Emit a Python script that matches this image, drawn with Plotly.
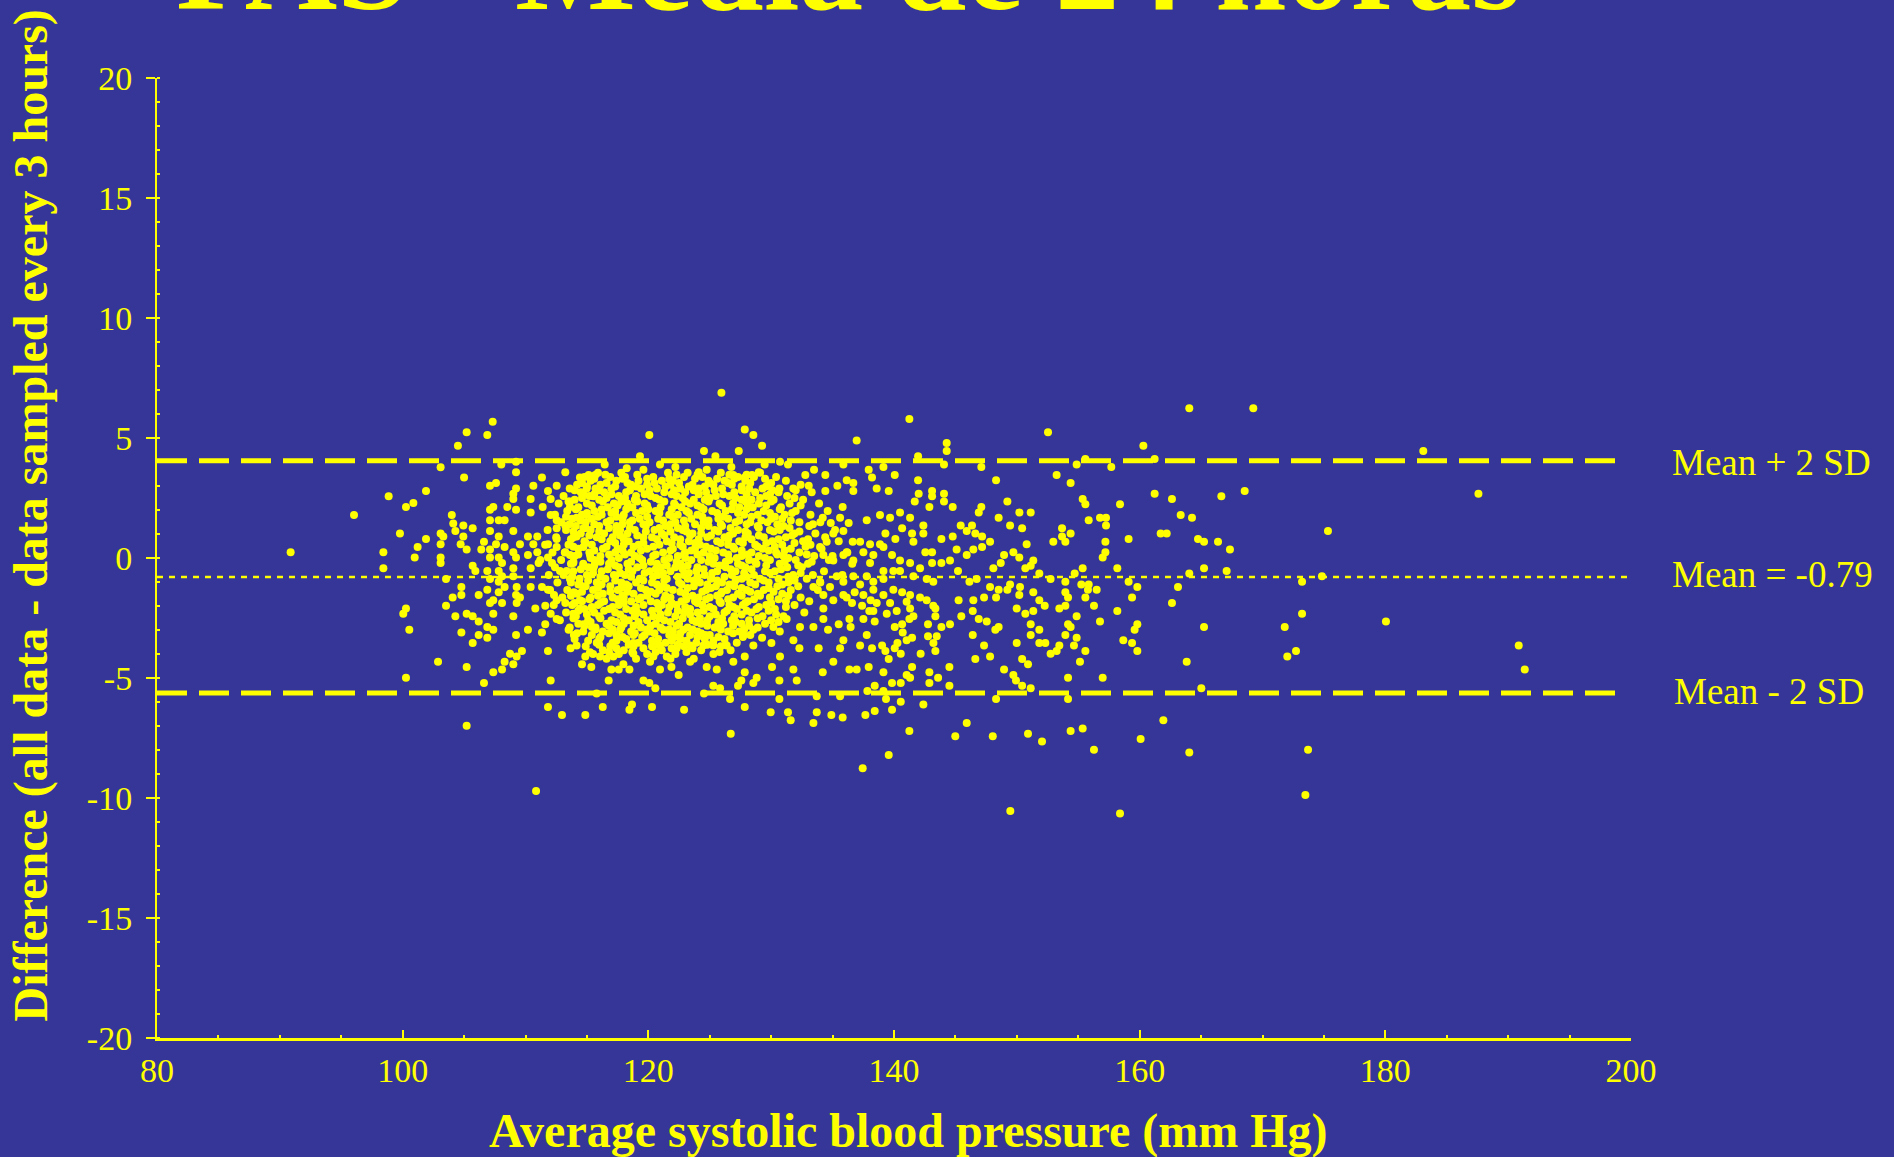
import plotly.graph_objects as go

# ---------------- data ----------------
# (average SBP, difference) pairs, sparse / readable points
left_pts = [
(107.33,5.68),(105.21,5.24),(106.89,5.13),(104.5,4.68),(103.09,3.78),(105.0,3.35),(98.86,2.57),(101.9,2.79),(100.27,2.13),(100.87,2.29),
(96.04,1.79),(90.88,0.24),(99.78,1.02),(101.9,0.79),(101.22,0.46),(98.43,0.24),(100.98,0.02),(98.43,-0.43),(103.09,1.02),(103.31,0.9),
(103.09,0.57),(103.09,0.02),(103.09,-0.21),(104.0,1.79),(104.12,1.44),(104.29,1.13),(104.94,1.35),(105.7,1.24),(104.94,0.9),(104.72,0.57),
(105.21,0.35),(105.7,-0.32),(105.92,-0.54),(103.53,-0.87),(104.78,-1.21),(104.78,-1.54),(104.07,-1.65),(103.53,-1.99),(106.19,-1.54),(106.89,-1.32),
(106.89,-0.54),(100.27,-2.1),(100.05,-2.32),(100.54,-2.99),(104.29,-2.43),(105.21,-2.32),(105.7,-2.43),(106.19,-2.65),(106.89,-2.87),(107.38,-2.99),
(104.78,-3.1),(106.19,-3.21),(106.89,-3.32),(105.7,-3.54),(107.38,-2.32),(102.88,-4.32),(105.21,-4.54),(100.27,-4.99),(106.62,-5.21),(107.38,-4.76),
(108.09,-4.65),(108.3,-4.32),(109.01,-4.43),(108.74,-3.99),(109.28,-4.1),(109.71,-3.88),(109.23,-3.21),(109.01,-2.43),(110.2,-2.99),(111.34,-3.1),
(111.83,-3.88),(112.05,-5.1),(105.21,-6.99),(111.83,-6.21),(112.97,-6.54),(114.87,-6.54),(115.79,-5.65),(107.11,-1.87),(107.38,-1.76),(108.09,-1.87),
(109.28,-1.87),(109.23,-1.54),(109.55,-1.65),(109.28,-1.21),(107.82,-1.43),(107.11,-0.87),(107.82,-0.99),(108.09,-0.76),(109.01,-0.76),(108.3,-1.21),
(107.82,-0.54),(108.09,-0.21),(109.01,-0.43),(107.82,0.02),(107.11,0.02),(107.11,0.35),(106.62,0.68),(106.4,0.35),(107.6,0.57),(108.3,0.46),
(109.01,0.24),(109.23,0.02),(109.55,0.57),(110.2,0.9),(110.96,0.9),(107.11,1.13),(107.82,0.9),(109.01,1.13),(107.11,1.57),(107.82,1.57),
(108.3,1.57),(107.11,2.01),(107.38,2.13),(108.52,2.13),(109.23,2.01),(109.01,2.46),(109.01,2.68),(109.23,2.9),(107.11,3.01),(107.6,3.12),
(109.23,3.57),(109.23,4.01),(108.03,3.9),(110.64,3.01),(111.34,3.35),(110.42,2.46),(110.42,1.9),(111.4,2.13),(111.83,2.79),(112.05,2.46),
(112.54,3.01),(113.24,3.57),(112.05,1.79),(112.54,1.57),(112.54,1.24),(113.24,1.35),(111.83,0.57),(112.54,0.79),(110.64,0.57),(110.96,0.24),
(110.2,0.13),(110.42,-0.43),(111.07,-0.21),(111.83,0.02),(112.54,0.46),(113.24,0.24),(112.16,-0.21),(112.81,-0.54),(110.42,-1.21),(111.34,-1.21),
(111.83,-1.32),(112.32,-1.54),(112.54,-1.76),(113.24,-1.87),(110.8,-2.1),(111.61,-1.99),(112.05,-2.32),(112.54,-2.54),(111.61,-2.76),(113.51,-2.99),
(113.94,-3.21),(113.67,-3.76),(114.16,-3.65),(114.6,-4.43),(115.36,-4.54),(115.25,-3.93),(114.71,-2.76),(115.41,-2.87),(113.89,-2.32),(114.43,-2.1),
(115.41,-2.1),(113.94,-1.43),(114.43,-1.76),(113.62,-0.87),(114.43,-1.1),(113.35,-0.54),(113.89,-0.21),(114.71,-0.32),(115.52,-0.43),(113.62,0.13),
(114.71,0.46),(115.25,0.13),(114.16,0.9),(114.71,1.24),(114.16,1.68),(114.98,1.79),(113.62,2.13),(113.62,2.35),(114.71,2.68),(115.52,2.57),
(114.43,3.35),(115.14,3.46),(115.68,3.46),(114.98,2.9),(110.86,-9.71),
]

mid_pts = [
(125.95,6.89),(120.08,5.13),(127.85,5.35),(128.55,5.13),(129.26,4.68),(124.53,4.46),(127.36,4.46),(125.46,4.24),(119.32,4.24),(141.25,5.79),
(136.96,4.9),(144.29,4.79),(144.29,4.46),(141.96,4.24),(116.45,3.9),(118.24,3.74),(119.6,3.68),(120.95,3.9),(122.2,3.79),(124.1,3.57),
(124.75,3.68),(126.76,3.79),(126.92,3.46),(127.85,3.35),(128.44,3.46),(128.99,3.57),(129.47,3.9),(130.72,4.01),(131.37,3.9),(133.49,3.68),
(132.78,3.46),(134.41,3.46),(135.88,3.9),(137.94,3.68),(139.14,3.79),(140.06,3.46),(144.07,3.9),(147.11,3.79),(148.31,3.24),(141.96,3.24),
(138.21,3.35),(136.15,3.24),(136.69,3.13),(133.06,3.01),(134.41,2.79),(135.39,3.01),(136.69,2.79),(138.59,2.9),(139.57,2.79),(130.67,2.9),
(142.01,2.68),(143.1,2.79),(144.07,2.68),(141.69,2.35),(143.1,2.57),(144.07,2.35),(144.78,2.13),(142.88,2.13),(146.9,1.9),(147.11,2.13),
(149.23,2.35),(148.52,1.68),(150.21,1.9),(149.45,1.35),(150.43,1.24),(145.43,1.35),(146.35,1.35),(145.92,1.13),(146.62,1.02),(147.17,0.9),
(144.78,0.9),(143.86,0.79),(147.82,0.68),(147.17,0.46),(145.1,0.35),(146.46,0.35),(145.92,0.13),(143.1,0.24),(142.55,0.24),(143.1,-0.21),
(143.86,-0.21),(144.56,-0.1),(148.96,0.13),(149.72,0.24),(148.69,-0.21),(150.69,-0.43),(150.8,0.57),(148.09,-0.43),(145.21,-0.54),(146.14,-0.99),
(146.73,-0.87),(147.82,-1.21),(148.52,-1.32),(149.45,-1.1),(150.26,-1.21),(145.26,-1.76),(146.46,-1.76),(147.33,-1.65),(148.31,-1.65),(146.41,-2.21),
(145.48,-2.43),(146.9,-2.54),(147.55,-2.65),(148.52,-2.87),(148.25,-2.99),(149.99,-2.1),(150.69,-2.32),(146.41,-3.21),(147.33,-3.65),(147.82,-4.1),
(146.62,-4.21),(149.99,-3.54),(150.43,-4.21),(150.91,-4.43),(148.96,-4.65),(149.72,-4.88),(149.93,-5.1),(150.43,-5.32),(144.51,-4.54),(144.51,-5.32),
(143.59,-4.99),(142.88,-4.76),(142.88,-5.21),(143.21,-3.54),(143.37,-3.88),(143.48,-3.26),(143.86,-2.87),(144.56,-2.76),(142.77,-2.76),(143.37,-2.43),
(143.37,-2.1),(142.17,-3.99),(141.47,-4.54),(141.03,-4.88),(141.31,-4.99),(140.55,-5.21),(140.55,-5.99),(139.84,-5.21),(139.14,-4.76),(139.14,-5.54),
(139.84,-6.32),(138.43,-6.38),(139.35,-5.88),(141.25,-7.21),(139.57,-8.21),(137.45,-8.76),(142.39,-6.1),(145.92,-6.88),(144.99,-7.43),(148.04,-7.43),
(148.31,-5.88),(150.91,-7.32),(137.67,-6.54),(135.82,-6.65),(134.9,-6.54),(133.71,-6.43),(133.44,-6.88),(131.37,-6.43),(131.59,-6.76),(129.96,-6.43),
(127.85,-6.21),(126.71,-7.32),(122.91,-6.32),(120.3,-6.21),(118.46,-6.32),(118.67,-6.1),(116.29,-6.21),(126.65,-5.88),(130.67,-5.88),(133.71,-5.76),
(135.61,-5.76),(137.83,-5.54),(138.43,-5.32),
(137.99,-2.21),(138.43,-2.65),(137.78,-3.21),(137.24,-3.65),(138.21,-3.76),(139.03,-3.65),(139.3,-3.88),(140.06,-3.76),(140.28,-3.54),(139.57,-4.21),
(140.55,-3.99),(141.47,-3.32),(141.03,-3.43),(140.71,-3.1),(140.66,-2.76),(140.06,-2.87),(141.25,-2.54),(141.58,-2.43),(141.31,-2.1),(142.77,-3.26),
(136.37,-4.65),(136.96,-4.65),(137.94,-4.54),(135.06,-4.32),(134.2,-4.76),(133.87,-3.76),(135.88,-3.43),(135.61,-3.76),(136.47,-2.87),(134.63,-2.99),
(135.5,-2.76),(136.37,-2.54),(137.51,-2.54),(138.32,-2.21),(138.1,-1.76),(137.4,-1.99),(136.58,-1.87),(136.8,-1.43),(135.88,-1.54),(135.06,-1.76),
(134.25,-2.1),(134.25,-2.54),(133.44,-2.87),(132.35,-2.87),(131.81,-3.43),(132.3,-3.76),(130.72,-4.1),(130.07,-4.54),(131.81,-4.65),(132.08,-5.1),
(130.67,-5.1),(128.82,-4.99),(128.55,-5.21),(127.3,-5.32),(127.57,-5.1),(127.85,-4.76),(125.57,-4.65),(124.75,-4.54),(125.29,-5.32),(125.84,-5.43),
(124.53,-5.65),(123.4,-4.32),(122.47,-4.88),(121.88,-4.54),(120.95,-4.65),(120.57,-5.43),(119.6,-5.1),(120.08,-5.21),(118.46,-4.65),(117.59,-4.65),
(116.99,-4.65),(116.77,-5.1),(117.97,-4.43),(114.87,-4.1),(116.07,-4.1),(117.15,-4.1),(118.78,-3.99),(120.14,-4.32),(120.41,-4.1),(120.95,-3.65),
(121.5,-4.1),(122.31,-3.76),(123.4,-3.65),(124.48,-3.65),(125.29,-3.65),(126.38,-3.65),(126.92,-4.32),(127.85,-4.1),(128.55,-3.65),(127.74,-3.21),
(129.26,-3.32),(130.02,-3.54),(118.78,-3.54),(117.7,-2.99),(118.78,-3.21),(121.22,-2.99),(122.85,-2.99),(124.64,-3.21),(125.57,-2.87),(128.55,-2.99),
(130.18,-2.87),(131.26,-2.54),
(134.2,1.68),(134.85,1.46),(135.61,1.68),(136.31,1.46),(135.82,2.13),(137.78,1.57),(138.86,1.79),(139.68,1.68),(140.49,1.9),(141.31,1.68),
(142.39,1.35),(142.39,1.02),(140.66,1.24),(141.47,1.02),(141.58,0.68),(140.11,0.79),(139.3,1.02),(138.86,0.57),(138.05,0.57),(137.24,0.68),
(136.64,0.68),(136.15,0.24),(135.88,1.13),(135.06,1.02),(134.52,0.68),(133.98,0.46),(134.25,0.13),(135.06,-0.1),(135.88,0.13),(136.69,-0.1),
(137.51,0.24),(138.05,-0.21),(138.32,0.13),(139.14,0.46),(139.84,0.13),(140.49,-0.1),(141.31,-0.21),(142.12,-0.43),(142.66,-0.87),(143.2,-0.99),
(141.58,-0.76),(140.49,-0.54),(139.95,-0.54),(139.14,-0.54),(139.14,-0.87),(138.32,-0.99),(137.78,-0.76),(137.24,-1.1),(136.69,-0.76),(135.88,-0.99),
(135.34,-0.76),(134.79,-1.21),(133.98,-0.99),(133.44,-1.21),(134.25,-1.54),(136.15,-1.65),(137.51,-1.54),(138.32,-1.32),(139.14,-1.54),(139.95,-1.32),
(140.66,-1.43),(141.31,-1.54),(142.12,-1.65),(142.66,-1.76),(143.2,-1.99),(139.68,-1.87),(140.22,-2.21),(139.41,-2.32),(141.03,-1.82),(138.59,-1.87),
]

right_pts = [
(164.04,6.24),(169.25,6.24),(152.54,5.24),(160.3,4.68),(183.09,4.46),(161.22,4.13),(155.58,4.13),(154.87,3.9),(157.69,3.79),(153.24,3.46),
(154.38,3.13),(155.36,2.46),(155.58,2.24),(158.4,2.24),(161.22,2.68),(162.63,2.46),(166.65,2.57),(168.55,2.79),(151.13,1.9),(153.68,1.24),
(154.38,1.02),(153.68,0.9),(152.97,0.68),(153.95,0.68),(155.85,1.57),(156.77,1.68),(157.26,1.68),(157.26,1.35),(157.21,0.68),(157.21,0.24),
(156.99,0.02),(159.1,0.79),(161.71,1.02),(162.2,1.02),(163.34,1.79),(164.26,1.68),(164.75,0.79),(165.24,0.68),(166.38,0.68),(167.35,0.35),
(175.33,1.13),(150.2,0.02),(151.34,-0.1),(151.13,-0.32),(151.83,-0.65),(152.75,-0.87),(154.71,-0.65),(155.36,-0.43),(158.18,-0.43),(164.04,-0.65),
(165.24,-0.43),(167.08,-0.54),(174.84,-0.76),(173.22,-0.99),(153.95,-0.99),(155.25,-1.1),(155.85,-1.1),(155.79,-1.32),(156.5,-1.32),(159.1,-0.99),
(159.81,-1.21),(163.12,-1.21),(149.23,-1.32),(150.2,-1.54),(151.34,-1.43),(151.83,-1.76),(152.27,-1.99),(153.95,-1.43),(154.17,-1.65),(155.58,-1.65),
(153.95,-1.99),(153.46,-2.1),(156.28,-1.99),(159.38,-1.65),(162.63,-1.87),(158.18,-2.21),(151.34,-2.21),(154.87,-2.43),(156.77,-2.65),(151.13,-2.76),
(151.83,-2.99),(154.17,-2.76),(154.38,-2.87),(153.95,-3.21),(154.87,-3.32),(154.65,-3.65),(155.58,-3.88),(151.13,-3.21),(151.83,-3.54),(152.32,-3.54),
(153.46,-3.65),(152.75,-3.99),(153.24,-3.88),(159.81,-2.76),(159.59,-2.99),(165.24,-2.87),(171.81,-2.87),(173.22,-2.32),(180.05,-2.65),(158.67,-3.43),
(159.38,-3.54),(159.81,-3.88),(163.83,-4.32),(172.02,-4.1),(172.73,-3.88),(155.14,-4.32),(151.13,-5.43),(154.17,-4.99),(156.99,-4.99),(165.02,-5.43),
(154.17,-5.88),(161.93,-6.76),(152.05,-7.65),(154.38,-7.21),(155.36,-7.1),(156.28,-7.99),(160.08,-7.54),(164.04,-8.1),(173.71,-7.99),(173.49,-9.88),
(149.47,-10.54),(158.4,-10.65),(187.58,2.68),(190.86,-3.65),(191.35,-4.65),
]

# dense core: rows of (difference, [average SBP values]) estimated from the overlapping blob
core_rows = [
(3.55, [115.9,117.8,121.6,123.2,125.9,129.1]),
(3.47, [116.5,119.1,122.3,124.0,126.6,128.0]),
(3.38, [114.8,116.9,118.1,120.4,122.9,124.4,127.3,128.6,130.4]),
(3.30, [115.6,117.9,119.9,121.7,123.8,125.6,127.0,129.5]),
(3.22, [115.3,117.4,119.2,121.1,122.0,124.9,126.2,127.9,131.2]),
(3.13, [114.6,116.6,118.3,120.5,122.5,125.0,126.5,128.3,130.0]),
(3.05, [114.2,116.1,118.6,119.9,121.8,123.6,125.3,126.8,129.8,132.4]),
(2.98, [115.0,117.3,119.0,121.4,123.3,124.6,127.6,129.6]),
(2.90, [113.6,115.7,117.0,119.4,120.7,122.6,124.1,126.0,128.2,129.3,131.8]),
(2.82, [114.0,116.0,118.5,120.1,122.1,123.7,125.4,127.6,130.1,132.0]),
(2.74, [114.5,116.4,118.2,121.3,123.0,124.7,127.0,128.7,130.6,133.3]),
(2.66, [115.6,117.0,119.7,121.9,124.1,126.1,128.0,129.9]),
(2.58, [113.1,115.2,117.6,119.0,120.2,122.3,125.5,126.6,129.6,131.3]),
(2.50, [114.6,116.6,118.1,120.6,122.8,125.0,127.1,129.1,131.9]),
(2.43, [114.0,116.0,118.9,120.9,123.7,124.6,127.6,128.4,130.2,132.6]),
(2.35, [113.5,116.3,117.8,119.1,121.3,123.0,124.9,127.9,130.0]),
(2.27, [112.7,115.0,117.2,118.3,119.7,122.1,123.4,125.8,126.9,129.0,131.5,133.9]),
(2.19, [115.4,117.5,119.9,122.2,124.0,126.0,128.1,129.6,132.4]),
(2.11, [114.3,116.7,118.7,121.0,122.7,124.3,127.4,128.5,130.8]),
(2.03, [114.1,116.2,118.2,120.0,121.9,124.5,126.8,128.0,130.7]),
(1.96, [113.4,115.6,117.3,119.5,120.6,123.1,125.2,126.3,129.4,132.0,134.6]),
(1.88, [115.0,117.0,119.0,120.9,123.3,125.6,127.3,129.9,131.7]),
(1.80, [112.4,114.6,116.2,118.0,121.7,122.4,124.0,127.8,128.9,131.1,133.2]),
(1.72, [113.3,115.9,117.4,119.9,122.0,124.4,126.1,128.4,130.3]),
(1.64, [113.8,115.4,117.9,119.3,120.8,123.5,125.7,126.5,130.0,130.9]),
(1.56, [114.5,116.9,118.7,121.2,122.9,124.9,127.4,129.2,131.6]),
(1.49, [112.9,114.9,116.6,118.5,120.1,122.2,124.5,127.1,128.3,129.7,132.3,134.0]),
(1.41, [113.6,115.6,117.9,119.6,121.8,123.8,125.9,128.0,130.5,133.4]),
(1.33, [114.1,116.0,117.4,119.8,121.4,123.0,124.9,126.0,128.9,131.0,133.1]),
(1.25, [114.9,116.8,118.5,120.9,122.4,124.3,126.7,129.0,131.5]),
(1.17, [111.8,113.3,115.3,117.7,118.9,120.5,122.8,125.4,127.3,129.9,130.7,135.2]),
(1.10, [113.9,116.0,117.4,119.8,121.8,123.1,125.7,127.9,130.2,132.3]),
(1.02, [114.5,116.4,118.3,121.1,123.6,124.3,126.9,128.1,131.9,133.6]),
(0.94, [115.2,117.7,119.1,121.3,123.4,125.1,126.6,129.0,131.7]),
(0.86, [112.5,113.9,115.8,117.1,119.6,120.3,122.1,124.8,126.2,127.9,129.4,131.2,134.4]),
(0.78, [113.7,116.2,118.0,120.7,122.6,124.1,126.5,128.4,130.6,133.0]),
(0.70, [114.8,116.9,118.4,121.5,123.3,125.6,127.4,130.1,132.6,135.5]),
(0.62, [114.9,117.3,119.6,121.9,123.8,125.9,127.7,129.6,131.9]),
(0.55, [111.6,113.5,115.4,118.0,119.2,120.9,122.6,124.2,126.5,128.7,130.9,133.2]),
(0.47, [113.9,116.6,118.8,120.4,122.8,124.7,126.9,128.9,130.3,132.8]),
(0.39, [114.3,116.3,117.5,119.9,122.0,123.8,125.1,127.0,129.3,131.6,134.1]),
(0.31, [115.6,117.9,119.4,121.8,123.5,125.5,127.6,129.8,131.1]),
(0.23, [112.2,113.2,115.2,117.3,118.6,121.2,123.0,124.5,126.1,128.4,130.4,132.3,136.2]),
(0.15, [114.3,116.8,118.1,120.6,122.9,124.0,126.5,128.1,130.5,132.9]),
(0.08, [114.0,116.1,118.9,120.4,122.4,125.0,127.6,129.0,131.0,133.5,135.0]),
(0.00, [115.3,117.6,119.3,121.7,123.0,125.4,127.2,129.5,131.4]),
(-0.08, [111.2,112.9,115.6,117.0,119.5,121.3,123.5,124.3,126.6,128.2,129.9,132.0,134.7]),
(-0.16, [113.9,116.1,118.6,120.2,122.3,124.9,126.3,128.7,131.1,133.3]),
(-0.24, [113.7,114.7,116.8,118.3,120.7,122.6,125.3,127.3,128.8,130.7,133.0,136.6]),
(-0.31, [115.6,117.3,119.6,121.5,123.2,125.8,127.6,129.6,132.2]),
(-0.39, [112.4,115.1,117.6,119.1,121.0,122.2,124.0,126.3,127.9,131.3,132.5]),
(-0.47, [114.5,116.7,118.4,120.6,122.8,124.5,126.7,128.4,130.8]),
(-0.55, [113.9,116.2,118.7,120.1,121.8,123.9,125.6,127.1,129.5,130.3,134.3]),
(-0.63, [115.5,117.7,119.7,121.2,123.3,125.2,127.8,129.9,132.4]),
(-0.71, [111.9,113.1,115.0,117.2,118.1,120.8,122.9,124.6,126.8,128.6,131.8,133.4,135.8]),
(-0.78, [113.8,116.1,118.6,120.4,122.4,124.0,126.2,128.0,131.4]),
(-0.86, [114.4,116.5,119.3,121.5,123.2,125.1,127.6,129.1,130.6,132.9]),
(-0.94, [115.1,117.3,119.6,121.3,123.7,125.6,127.1,129.4,131.9]),
(-1.02, [112.6,113.7,115.8,117.8,119.0,120.3,122.5,124.2,126.0,128.3,129.8,131.4,134.0]),
(-1.10, [114.3,116.2,118.2,120.7,122.7,124.8,126.6,128.7,130.9]),
(-1.18, [114.9,116.9,118.4,121.2,123.7,125.5,127.0,130.5,132.2]),
(-1.25, [115.9,117.8,119.4,121.5,123.2,125.1,127.6,129.8]),
(-1.33, [112.0,113.4,115.5,117.5,119.8,120.9,122.0,124.7,126.4,128.0,129.4,131.6,133.8]),
(-1.41, [114.6,116.9,118.3,120.2,122.6,124.4,126.0,128.3,130.2]),
(-1.49, [114.2,116.3,118.8,120.6,123.0,125.9,127.3,128.9,130.9]),
(-1.57, [113.7,115.9,117.9,119.9,121.4,123.6,125.6,127.6,129.1,131.4]),
(-1.65, [113.0,115.3,117.1,118.0,119.4,121.8,124.1,125.0,126.9,129.9,132.4]),
(-1.72, [115.2,117.5,119.2,121.3,123.1,124.7,126.5,128.6,130.6]),
(-1.80, [114.6,116.4,118.6,120.2,122.7,123.8,125.8,128.1,131.2,133.1]),
(-1.88, [114.0,116.1,118.0,120.7,121.9,124.0,125.9,127.9,130.0]),
(-1.96, [112.3,113.8,115.9,117.6,119.6,121.1,122.3,124.4,126.6,127.7,129.6,131.9]),
(-2.04, [115.4,117.1,119.0,121.7,123.0,125.0,126.9,129.0,131.2]),
(-2.12, [114.8,116.8,118.2,120.8,123.4,125.3,127.2,128.8,130.3]),
(-2.20, [114.3,116.4,118.7,120.3,122.4,124.5,126.4,128.0,129.8]),
(-2.27, [113.3,115.6,117.3,119.1,121.6,122.9,124.0,126.2,128.4,132.7]),
(-2.35, [115.0,117.7,119.6,121.0,123.4,125.5,127.6,130.4]),
(-2.43, [114.1,116.0,118.9,120.4,122.2,125.0,127.0,129.3,131.0]),
(-2.51, [113.9,116.1,118.0,120.9,122.8,124.2,126.0,128.9]),
(-2.59, [112.8,115.1,117.0,118.4,119.9,121.3,123.6,124.8,126.8,128.2,130.0]),
(-2.67, [115.3,117.4,119.2,121.8,123.9,125.7,127.1,130.6]),
(-2.74, [114.3,116.6,118.0,120.6,122.5,124.3,126.1,127.6,129.5]),
(-2.82, [114.8,116.8,118.8,120.2,122.3,124.8,126.9,128.2]),
(-2.90, [113.6,115.7,117.8,119.4,121.0,123.2,125.4,128.9]),
(-2.98, [115.7,117.1,119.9,121.7,123.6,125.9,127.8]),
(-3.06, [114.7,116.3,118.6,120.1,122.0,124.0,126.5,127.4,130.7]),
(-3.14, [114.2,116.8,118.9,120.5,122.6,124.3,126.9]),
(-3.21, [115.4,117.4,119.7,121.7,123.4,125.0,128.3]),
(-3.29, [116.1,117.9,119.5,122.1,124.0,125.7,127.7]),
(-3.37, [114.0,116.0,118.2,120.8,122.6,124.6,126.2]),
(-3.45, [115.1,117.4,120.3,121.9,123.1,125.3]),
(-3.53, [115.8,117.1,119.2,121.4,123.9,127.2]),
(-3.61, [116.0,118.4,120.8,122.4,124.8,126.3]),
(-3.68, [114.9,116.9,118.8,120.3,122.9,125.9]),
(-3.76, [117.4,119.6,121.9,123.6]),
(-3.84, [116.3,118.0,121.1,124.3,126.7]),
(-3.92, [116.8,118.7,120.6,123.1,125.8]),
(-4.00, [115.5,117.6,119.9,122.2,125.3]),
(-4.20, [116.6,119.0,121.8,123.7]),
]

mean_diff = -0.79
sd_diff = 2.42
upper_loa = mean_diff + 2 * sd_diff
lower_loa = mean_diff - 2 * sd_diff

x_ticks = [80, 100, 120, 140, 160, 180, 200]
x_ticktext = ["80", "100", "120", "140", "160", "180", "200"]
y_ticks = [-20, -15, -10, -5, 0, 5, 10, 15, 20]
y_ticktext = ["-20", "-15", "-10", "-5", "0", "5", "10", "15", "20"]

title_text = "PAS - Média de 24 horas"
x_title = "Average systolic blood pressure (mm Hg)"
y_title = "Difference (all data - data sampled every 3 hours)"
label_upper = "Mean + 2 SD"
label_mean = "Mean = -0.79"
label_lower = "Mean - 2 SD"

# ---------------- build figure ----------------
pts = left_pts + mid_pts + right_pts
avg = [p[0] for p in pts] + [x for y, xs in core_rows for x in xs]
dif = [p[1] for p in pts] + [y for y, xs in core_rows for x in xs]

BG = "#353697"
YEL = "#FFFF00"
SERIF = "Liberation Serif, Times New Roman, serif"

fig = go.Figure()
fig.add_trace(go.Scatter(
    x=avg, y=dif, mode="markers",
    marker=dict(color=YEL, size=8, line=dict(width=0)),
    hoverinfo="skip", showlegend=False,
))

fig.add_shape(type="line", xref="x", yref="y", x0=80, x1=199.3, y0=upper_loa, y1=upper_loa,
              line=dict(color=YEL, width=5, dash="30px,12px"), layer="below")
fig.add_shape(type="line", xref="x", yref="y", x0=80, x1=199.3, y0=lower_loa, y1=lower_loa,
              line=dict(color=YEL, width=5, dash="30px,12px"), layer="below")
fig.add_shape(type="line", xref="x", yref="y", x0=80, x1=200, y0=mean_diff, y1=mean_diff,
              line=dict(color=YEL, width=2.5, dash="6px,6px"), layer="below")

ann_font = dict(family=SERIF, size=37, color=YEL)
fig.add_annotation(x=1.0265, y=upper_loa, xref="paper", yref="y", text=label_upper, showarrow=False,
                   xanchor="left", yanchor="middle", yshift=-2, font=ann_font)
fig.add_annotation(x=1.0265, y=mean_diff, xref="paper", yref="y", text=label_mean, showarrow=False,
                   xanchor="left", yanchor="middle", yshift=2, font=ann_font)
fig.add_annotation(x=1.0278, y=lower_loa, xref="paper", yref="y", text=label_lower, showarrow=False,
                   xanchor="left", yanchor="middle", yshift=2, font=ann_font)

fig.add_annotation(x=0.5095, y=-0.097, xref="paper", yref="paper", text="<b>%s</b>" % x_title,
                   showarrow=False, xanchor="center", yanchor="middle",
                   font=dict(family=SERIF, size=48, color=YEL))
fig.add_annotation(x=-0.0858, y=0.5438, xref="paper", yref="paper", text="<b>%s</b>" % y_title,
                   showarrow=False, xanchor="center", yanchor="middle", textangle=-90,
                   font=dict(family=SERIF, size=48, color=YEL))
fig.add_annotation(x=0.4691, y=1.1169, xref="paper", yref="paper", text="<b>%s</b>" % title_text,
                   showarrow=False, xanchor="center", yanchor="middle",
                   font=dict(family=SERIF, size=128, color=YEL))

fig.update_layout(
    width=1894, height=1157,
    margin=dict(l=157, r=263, t=78, b=119, pad=0),
    paper_bgcolor=BG, plot_bgcolor=BG,
    showlegend=False,
    font=dict(family=SERIF, color=YEL),
)
fig.update_xaxes(
    range=[80, 200], showgrid=False, zeroline=False,
    showline=True, linecolor=YEL, linewidth=3,
    tickmode="array", tickvals=x_ticks, ticktext=x_ticktext,
    ticks="inside", ticklen=8, tickwidth=2, tickcolor=YEL,
    minor=dict(dtick=5, tick0=80, ticks="inside", ticklen=3, tickwidth=2, tickcolor=YEL),
    tickfont=dict(family=SERIF, size=34, color=YEL),
)
fig.update_yaxes(
    range=[-20, 20], showgrid=False, zeroline=False,
    showline=True, linecolor=YEL, linewidth=2,
    tickmode="array", tickvals=y_ticks, ticktext=y_ticktext,
    ticks="outside", ticklen=9, tickwidth=2, tickcolor=YEL,
    ticklabelstandoff=7,
    minor=dict(dtick=1, tick0=0, ticks="inside", ticklen=3, tickwidth=2, tickcolor=YEL),
    tickfont=dict(family=SERIF, size=34, color=YEL),
)

fig.write_html("out.html")
